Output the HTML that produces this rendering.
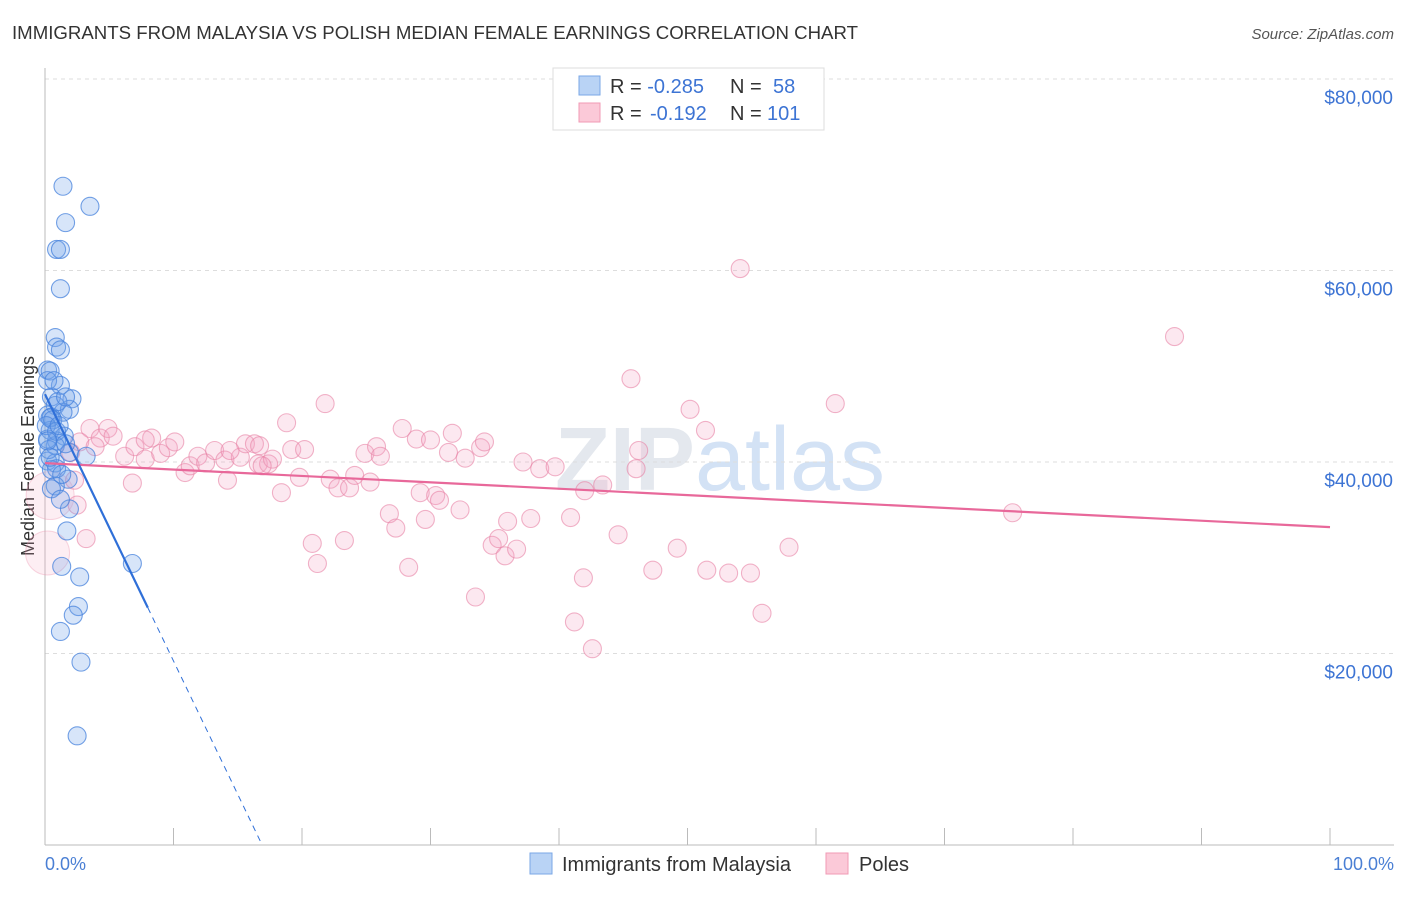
<!DOCTYPE html>
<html><head><meta charset="utf-8"><style>
body{margin:0;background:#fff;font-family:"Liberation Sans",sans-serif;}
</style></head><body>
<svg id="c" width="1406" height="892" xmlns="http://www.w3.org/2000/svg" style="font-family:'Liberation Sans',sans-serif">
<text x="12" y="39" font-size="18" fill="#333" textLength="846" lengthAdjust="spacingAndGlyphs">IMMIGRANTS FROM MALAYSIA VS POLISH MEDIAN FEMALE EARNINGS CORRELATION CHART</text>
<text x="1394" y="39" font-size="15" fill="#555" font-style="italic" text-anchor="end">Source: ZipAtlas.com</text>
<text x="720" y="490" font-size="90" fill="#e4e8ee" text-anchor="middle" font-weight="bold">ZIP<tspan fill="#d3e2f5" font-weight="normal">atlas</tspan></text>
<g id="grid"></g>
<line x1="45" y1="68" x2="45" y2="845" stroke="#bbb"/>
<line x1="45" y1="845" x2="1394" y2="845" stroke="#bbb"/>
<text transform="translate(34,456) rotate(-90)" font-size="18" fill="#333" text-anchor="middle">Median Female Earnings</text>
<text x="45" y="870" font-size="18" fill="#4a7fd4">0.0%</text>
<text x="1394" y="870" font-size="18" fill="#4a7fd4" text-anchor="end">100.0%</text>
<g id="pts"></g>
<g id="lines"></g>
<g>
<rect x="553" y="68" width="271" height="62" fill="#fff" stroke="#ddd"/>
<rect x="579" y="76" width="21" height="19" fill="#b9d3f5" stroke="#7aa7e6"/>
<rect x="579" y="103" width="21" height="19" fill="#fbc9d8" stroke="#f09ab5"/>
<text x="610" y="93" font-size="20" fill="#333">R = <tspan fill="#3d74d4">-0.285</tspan><tspan x="730">N = </tspan><tspan x="773" fill="#3d74d4">58</tspan></text>
<text x="610" y="120" font-size="20" fill="#333">R = <tspan x="650" fill="#3d74d4">-0.192</tspan><tspan x="730">N = </tspan><tspan x="767" fill="#3d74d4">101</tspan></text>
</g>
<g>
<rect x="530" y="853" width="22" height="21" fill="#b9d3f5" stroke="#7aa7e6"/>
<text x="562" y="871" font-size="20" fill="#333">Immigrants from Malaysia</text>
<rect x="826" y="853" width="22" height="21" fill="#fbc9d8" stroke="#f09ab5"/>
<text x="859" y="871" font-size="20" fill="#333">Poles</text>
</g>
</svg>
<script>
const yTicks=[20000,40000,60000,80000];
const yTickLabels=["$20,000","$40,000","$60,000","$80,000"];
const xTicks=[0,10,20,30,40,50,60,70,80,90,100];
const blueX=[1.4,3.5,1.6,0.9,1.2,1.2,0.8,0.9,1.2,0.2,0.4,1.2,0.5,2.1,0.8,1.9,1.4,0.2,0.5,0.4,1.5,0.9,0.8,1.9,3.2,0.2,0.8,0.9,1.8,0.8,0.5,1.9,1.7,1.3,2.7,2.6,2.2,1.2,2.8,2.5,6.8,0.2,0.4,0.6,0.1,1.0,1.6,0.3,0.5,1.2,0.2,0.9,1.6,0.4,1.3,0.7,1.1,0.2];
const blueY=[68800,66700,65000,62200,62200,58100,53000,52000,51700,49600,49500,48000,46800,46600,45900,45500,45200,44900,44700,43300,42700,42200,41700,41000,40600,40100,39900,39300,38200,37500,37200,35100,32800,29100,28000,24900,24000,22300,19100,11400,29400,42400,44600,44400,43800,46300,46800,41300,39200,36100,48500,43200,41900,40500,38700,48500,43800,42200];
const pinkX=[3.5,4.3,4.9,5.3,2.7,3.9,2.0,2.3,6.2,7.0,7.8,8.3,9.0,9.6,10.1,10.9,11.3,11.9,12.5,13.2,14.0,14.2,15.2,15.6,16.3,16.6,17.4,17.7,18.4,18.8,19.2,19.8,20.2,20.8,21.2,21.8,22.2,22.8,23.3,23.7,24.1,24.9,25.3,25.8,26.1,26.8,27.3,27.8,28.3,28.9,29.2,29.6,30.4,30.7,31.4,31.7,32.3,32.7,33.5,33.9,34.2,34.8,35.3,35.8,36.0,36.7,37.2,37.8,38.5,39.7,40.9,41.2,41.9,42.0,42.6,43.4,44.6,45.6,46.0,46.2,47.3,49.2,50.2,51.4,51.5,53.2,54.1,54.9,55.8,57.9,61.5,75.3,87.9,7.8,14.4,16.7,30.0,16.9,2.5,3.2,6.8];
const pinkY=[43500,42500,43500,42700,42100,41600,41000,38100,40600,41600,40300,42500,40900,41500,42100,38900,39600,40600,39900,41200,40200,38100,40500,41900,41900,39800,39800,40300,36800,44100,41300,38400,41300,31500,29400,46100,38200,37300,31800,37300,38600,40900,37900,41600,40600,34600,33100,43500,29000,42400,36800,34000,36500,36000,41000,43000,35000,40400,25900,41500,42100,31300,32000,30200,33800,30900,40000,34100,39300,39500,34200,23300,27900,37000,20500,37600,32400,48700,39300,41200,28700,31000,45500,43300,28700,28400,60200,28400,24200,31100,46100,34700,53100,42300,41200,41700,42300,39600,35500,32000,37800];
const blueLine=[47080,-2786],blueSolidEnd=8.0,blueZero=16.9;
const pinkLine=[39880,33200];
const X=v=>45+v*12.85, Y=v=>845-v*191.5/20000;
const NS="http://www.w3.org/2000/svg";
function mk(t,a,p){const e=document.createElementNS(NS,t);for(const k in a)e.setAttribute(k,a[k]);p.appendChild(e);return e;}
const grid=document.getElementById('grid');
yTicks.forEach((v,i)=>{
 const l=mk('line',{x1:45,x2:1394,y1:Y(v),y2:Y(v),stroke:'#ddd','stroke-dasharray':'4,4'},grid);
 
 
 const t=mk('text',{x:1393,y:Y(v)+25,'font-size':19,fill:'#3d74d4','text-anchor':'end'},grid);
 t.textContent=yTickLabels[i];
 
 
});
mk('line',{x1:45,x2:1394,y1:79,y2:79,stroke:'#ddd','stroke-dasharray':'4,4'},grid);
xTicks.forEach(v=>{
 const l=mk('line',{x1:X(v),x2:X(v),y1:828,y2:845,stroke:'#bbb'},grid);
 
 
});
const pts=document.getElementById('pts');
mk('circle',{cx:X(0.4),cy:Y(36500),r:24,fill:'rgba(245,170,195,0.2)',stroke:'rgba(235,140,170,0.35)'},pts);
mk('circle',{cx:X(0.2),cy:Y(30500),r:22,fill:'rgba(245,170,195,0.2)',stroke:'rgba(235,140,170,0.35)'},pts);
pinkX.forEach((x,i)=>{
 const c=mk('circle',{cx:X(x),cy:Y(pinkY[i]),r:9,fill:'rgba(245,165,195,0.25)',stroke:'rgba(232,130,165,0.6)','stroke-width':1.1},pts);
 
 
});
blueX.forEach((x,i)=>{
 const c=mk('circle',{cx:X(x),cy:Y(blueY[i]),r:9,fill:'rgba(110,160,235,0.28)',stroke:'rgba(70,130,220,0.75)','stroke-width':1.1},pts);
 
 
});
const ln=document.getElementById('lines');
const pl=mk('line',{x1:X(0),y1:Y(pinkLine[0]),x2:X(100),y2:Y(pinkLine[1]),stroke:'#e8689a','stroke-width':2.2},ln);


const bl=mk('line',{x1:X(0),y1:Y(blueLine[0]),x2:X(blueSolidEnd),y2:Y(blueLine[0]+blueLine[1]*blueSolidEnd),stroke:'#2f6fd8','stroke-width':2.2},ln);


const bd=mk('line',{x1:X(blueSolidEnd),y1:Y(blueLine[0]+blueLine[1]*blueSolidEnd),x2:X(blueZero),y2:Y(blueLine[0]+blueLine[1]*blueZero),stroke:'#2f6fd8','stroke-width':1,'stroke-dasharray':'6,5'},ln);


</script>
</body></html>
